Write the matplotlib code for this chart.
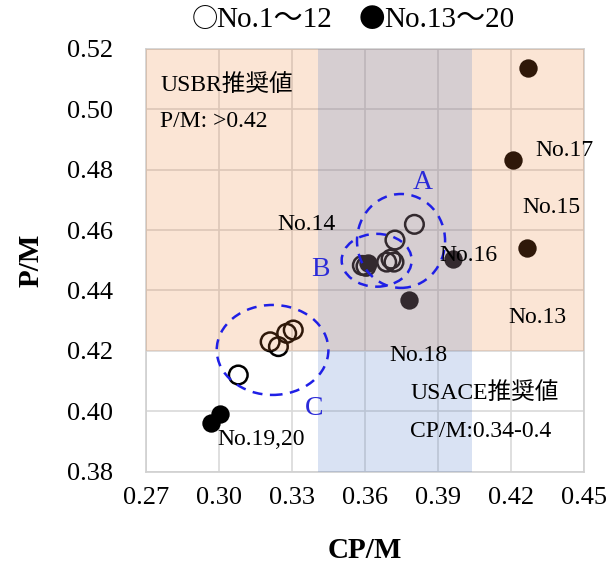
import matplotlib
matplotlib.use("Agg")
import matplotlib.pyplot as plt
from matplotlib.patches import Ellipse

plt.rcParams['font.family'] = ['Liberation Serif', 'Noto Sans CJK JP']

# No.1-12 (open circles)
cp_open = [0.3803, 0.3723, 0.3689, 0.3707, 0.3719, 0.3589, 0.3604,
           0.3210, 0.3244, 0.3278, 0.3305, 0.3079]
pm_open = [0.4619, 0.4567, 0.4494, 0.4504, 0.4494, 0.4483, 0.4480,
           0.4230, 0.4214, 0.4258, 0.4269, 0.4120]

# No.13-20 (filled circles)
cp_fill = [0.4271, 0.4209, 0.4267, 0.3963, 0.3614, 0.3782, 0.3004, 0.2966]
pm_fill = [0.5136, 0.4832, 0.4540, 0.4503, 0.4492, 0.4369, 0.3991, 0.3960]

# point labels
labels = ["No.17", "No.15", "No.13", "No.16", "No.14", "No.18", "No.19,20"]
label_x = [0.4418, 0.4367, 0.4309, 0.4027, 0.3358, 0.3818, 0.3171]
label_y = [0.4862, 0.4676, 0.4309, 0.4517, 0.4617, 0.4183, 0.3905]

# groups A, B, C: centre x, centre y, width, height
groups = ["A", "B", "C"]
grp_cx = [0.3748, 0.3648, 0.3220]
grp_cy = [0.4564, 0.4500, 0.4203]
grp_w = [0.0362, 0.0288, 0.0459]
grp_h = [0.0311, 0.0175, 0.0298]
grp_tx = [0.3838, 0.3415, 0.3390]
grp_ty = [0.4756, 0.4471, 0.4010]

# recommended ranges
usbr_pm_min = 0.42
usace_cp = (0.3405, 0.404)

xticks = [0.27, 0.30, 0.33, 0.36, 0.39, 0.42, 0.45]
yticks = [0.38, 0.40, 0.42, 0.44, 0.46, 0.48, 0.50, 0.52]

fig = plt.figure(figsize=(6.06, 5.63), dpi=100)
ax = fig.add_axes([0.241, 0.1623, 0.7227, 0.7508])

ax.set_xlim(0.27, 0.45)
ax.set_ylim(0.38, 0.52)
ax.set_xticks(xticks)
ax.set_yticks(yticks)
ax.set_xticklabels([f"{v:.2f}" for v in xticks])
ax.set_yticklabels([f"{v:.2f}" for v in yticks])
ax.tick_params(length=0, labelsize=19)
ax.tick_params(axis='x', pad=11)
ax.tick_params(axis='y', pad=24)
ax.grid(True, color='#d9d9d9', linewidth=1.2, zorder=0)
ax.set_axisbelow(True)
for s in ax.spines.values():
    s.set_color('#d0d0d0')
    s.set_linewidth(1.2)

ax.scatter(cp_open, pm_open, s=180, facecolors='none', edgecolors='black',
           linewidths=1.8, zorder=2)
ax.scatter(cp_fill, pm_fill, s=175, color='black', linewidths=0, zorder=2)

# shaded ranges drawn over the points
ax.axhspan(usbr_pm_min, 0.52, color='#ED7D31', alpha=0.2, lw=0, zorder=3)
ax.axvspan(usace_cp[0], usace_cp[1], color='#4472C4', alpha=0.2, lw=0, zorder=3)

for g, cx, cy, w, h, tx, ty in zip(groups, grp_cx, grp_cy, grp_w, grp_h,
                                   grp_tx, grp_ty):
    ax.add_patch(Ellipse((cx, cy), w, h, fill=False, edgecolor='#1f1fe6',
                         linestyle=(0, (4, 3)), linewidth=1.8, zorder=4))
    ax.text(tx, ty, g, color='#2a2ad8', fontsize=20, ha='center',
            va='center', zorder=5)

for t, x, y in zip(labels, label_x, label_y):
    ax.text(x, y, t, fontsize=17, ha='center', va='center', zorder=5)

ax.text(0.2758, 0.5077, "USBR推奨値", fontsize=17, va='center', zorder=5)
ax.text(0.2758, 0.4961, "P/M: >0.42", fontsize=17, va='center', zorder=5)
ax.text(0.3785, 0.4057, "USACE推奨値", fontsize=17, va='center', zorder=5)
ax.text(0.3785, 0.3932, "CP/M:0.34-0.4", fontsize=17, va='center', zorder=5)

ax.set_xlabel("CP/M", fontsize=21, fontweight='bold', labelpad=20)
ax.set_ylabel("P/M", fontsize=21, fontweight='bold', labelpad=16)

# legend line above the plot
cjk = ['Noto Sans CJK JP']
fig.text(205 / 606, 0.9645, "○", fontsize=19, family=cjk,
         ha='center', va='center')
fig.text(216 / 606, 0.9645, "No.1～12", fontsize=21, ha='left', va='center')
fig.text(372 / 606, 0.9645, "●", fontsize=19, family=cjk,
         ha='center', va='center')
fig.text(384 / 606, 0.9645, "No.13～20", fontsize=21, ha='left', va='center')

fig.savefig("out.png", dpi=100)
